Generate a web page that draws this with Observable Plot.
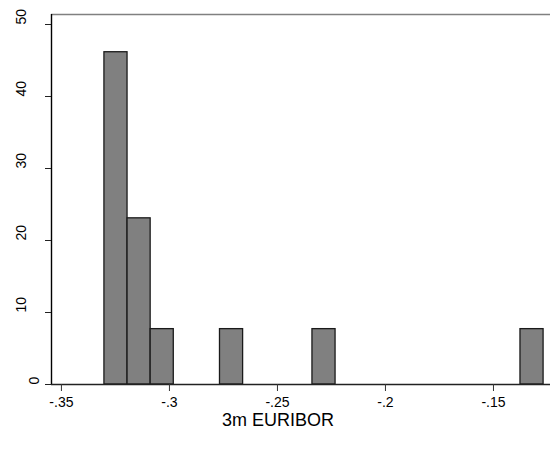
<!DOCTYPE html>
<html>
<head>
<meta charset="utf-8">
<script src="https://cdn.jsdelivr.net/npm/d3@7"></script>
<script src="https://cdn.jsdelivr.net/npm/@observablehq/plot@0.6"></script>
<style>
  html, body { margin: 0; padding: 0; background: #fff; }
  svg { display: block; }
</style>
</head>
<body>
<div id="chart"></div>
<script>
// Histogram bins of 3m EURIBOR (percent of observations)
const binLow   = [-0.3301, -0.3194, -0.3087, -0.2766, -0.2338, -0.1375];
const binWidth = 0.0107;
const percent  = [46.15, 23.08, 7.69, 7.69, 7.69, 7.69];

const xTicks      = [-0.35, -0.3, -0.25, -0.2, -0.15];
const xTickLabels = ["-.35", "-.3", "-.25", "-.2", "-.15"];
const yTicks      = [0, 10, 20, 30, 40, 50];
const yTickLabels = ["0", "10", "20", "30", "40", "50"];
const xTitle = "3m EURIBOR";

const xDomain = [-0.3546, -0.1236];
const yDomain = [0, 51.39];

const bins = binLow.map((lo, i) => ({x1: lo, x2: lo + binWidth, y: percent[i]}));
const yLab = yTicks.map((v, i) => ({y: v, label: yTickLabels[i]}));

const chart = Plot.plot({
  width: 550,
  height: 451,
  marginLeft: 51,
  marginRight: 0,
  marginTop: 14,
  marginBottom: 67,
  style: {fontFamily: "'Liberation Sans', Arial, Helvetica, sans-serif", fontSize: "14px", background: "#fff", color: "#000"},
  x: {domain: xDomain},
  y: {domain: yDomain},
  marks: [
    Plot.rectY(bins, {x1: "x1", x2: "x2", y: "y", fill: "#808080", stroke: "#1a1a1a", strokeWidth: 1.3}),
    Plot.ruleY([yDomain[1]], {stroke: "#808080", strokeWidth: 1.7}),
    Plot.ruleY([0], {stroke: "#222", strokeWidth: 1.4}),
    Plot.ruleX([xDomain[0]], {stroke: "#000", strokeWidth: 1.4}),
    Plot.axisX({ticks: xTicks, tickFormat: (d) => xTickLabels[xTicks.indexOf(d)], tickSize: 7, tickPadding: 6, stroke: "#333", fontSize: 14, label: null}),
    Plot.axisY({ticks: yTicks, tickFormat: () => "", tickSize: 6, stroke: "#222", label: null}),
    Plot.text(yLab.filter(d => d.label !== "0"), {y: "y", text: "label", frameAnchor: "left", rotate: -90, dx: -30, fontSize: 14, fill: "#000"}),
    Plot.text(yLab.filter(d => d.label === "0"), {y: "y", text: "label", frameAnchor: "left", rotate: -90, dx: -17, fontSize: 14, fill: "#000"}),
    Plot.text([xTitle], {frameAnchor: "bottom", dy: 41, dx: -23, fontSize: 18, fill: "#000"})
  ]
});
document.getElementById("chart").appendChild(chart);
</script>
</body>
</html>
